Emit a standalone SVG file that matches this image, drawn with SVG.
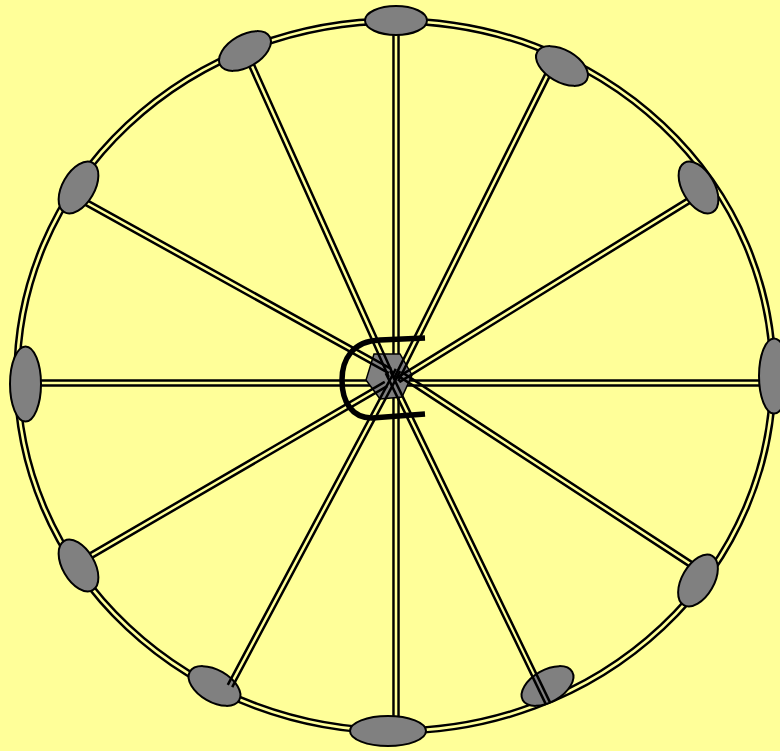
<svg xmlns="http://www.w3.org/2000/svg" width="780" height="751" viewBox="0 0 780 751">
<style>
.bo{fill:none;stroke:#000;stroke-width:7.5}
.bi{fill:none;stroke:#FFFF99;stroke-width:2.6}
.sp{fill:none;stroke:#000;stroke-width:2.5;stroke-linecap:butt}
.node{fill:#808080;stroke:#000;stroke-width:2}
.hex{fill:#808080;stroke:#000;stroke-width:1.5}
.c{fill:none;stroke:#000;stroke-width:5.5;stroke-linecap:butt}
</style>
<rect width="780" height="751" fill="#FFFF99"/>
<g id="rim">
<ellipse class="bo" cx="395" cy="376" rx="378" ry="355"/>
<ellipse class="bi" cx="395" cy="376" rx="378" ry="355"/>
</g>
<g id="connectors-back">
<path class="bo" d="M396,20V731M25,383H774"/>
<path class="bi" d="M396,20V731M25,383H774"/>
</g>
<g id="hub"><polygon class="hex" points="374,354 400,354 412,375 402,397 380,399 366,380"/></g>
<g id="connectors">
<path class="sp" d="M393.28,374.98L249.28,53.98M388.72,377.02L244.72,56.02"/>
<path class="sp" d="M398.24,381.11L554.24,67.11M393.76,378.89L549.76,64.89"/>
<path class="sp" d="M391.21,368.81L79.21,195.81M388.79,373.19L76.79,200.19"/>
<path class="sp" d="M399.31,382.13L699.31,197.13M396.69,377.87L696.69,192.87"/>
<path class="sp" d="M384.74,381.84L83.74,556.84M387.26,386.16L86.26,561.16"/>
<path class="sp" d="M398.63,376.09L696.63,571.09M401.37,371.91L699.37,566.91"/>
</g>
<g id="n-top"><ellipse class="node" cx="396" cy="20.5" rx="31" ry="14.5"/></g>
<g id="n-tl"><ellipse class="node" cx="245" cy="51" rx="28.5" ry="16" transform="rotate(-30 245 51)"/></g>
<g id="n-tr"><ellipse class="node" cx="562" cy="66" rx="28.5" ry="16" transform="rotate(30 562 66)"/></g>
<g id="n-l1"><ellipse class="node" cx="78.5" cy="187.5" rx="28.5" ry="16" transform="rotate(-60 78.5 187.5)"/></g>
<g id="n-r1"><ellipse class="node" cx="698.5" cy="187.5" rx="28.5" ry="16" transform="rotate(60 698.5 187.5)"/></g>
<g id="n-left"><ellipse class="node" cx="25.5" cy="384" rx="15.5" ry="37.5"/></g>
<g id="n-right"><ellipse class="node" cx="774" cy="376" rx="15" ry="37.5"/></g>
<g id="n-l2"><ellipse class="node" cx="78.5" cy="565.5" rx="28.5" ry="16" transform="rotate(60 78.5 565.5)"/></g>
<g id="n-r2"><ellipse class="node" cx="698" cy="580.5" rx="28.5" ry="16" transform="rotate(-60 698 580.5)"/></g>
<g id="n-bl"><ellipse class="node" cx="214.5" cy="686" rx="28.5" ry="16" transform="rotate(30 214.5 686)"/></g>
<g id="n-br"><ellipse class="node" cx="547.5" cy="686" rx="28.5" ry="16" transform="rotate(-30 547.5 686)"/></g>
<g id="n-bottom"><ellipse class="node" cx="388" cy="731" rx="38" ry="15"/></g>
<g id="connectors-front">
<path class="sp" d="M395.79,368.83L227.79,684.83M400.21,371.17L232.21,687.17"/>
<path class="sp" d="M385.75,373.09L545.75,704.09M390.25,370.91L550.25,702.91"/>
</g>
<g id="c-mark"><path class="c" d="M425,338L380,340C352,341 342,360 342,380C342,402 352,418 372,418L425,414"/></g>
</svg>
